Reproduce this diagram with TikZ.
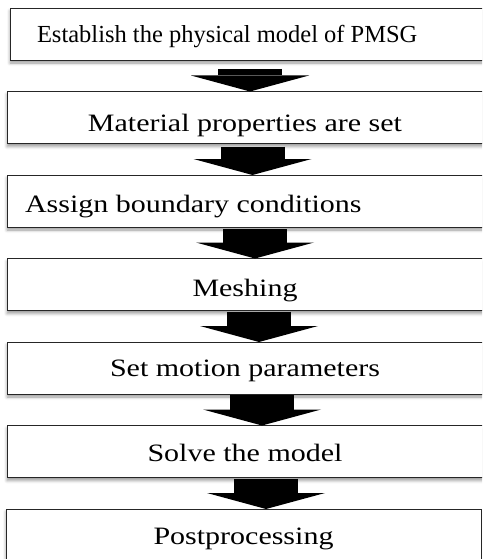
\documentclass[tikz,border=0pt]{standalone}
\usepackage{fontspec}
\setmainfont{Liberation Serif}
\newfontfamily\anchaserif[FakeStretch=1.2]{Liberation Serif}
\usetikzlibrary{arrows.meta,positioning,shadows.blur}
\tikzstyle{paso}=[
	rectangle,
	draw=black!85,
	line width=0.9pt,
	fill=white,
	outer sep=0pt,
	minimum width=476,
	minimum height=52,
	text height=16.5pt,
	text depth=0pt,
	font=\anchaserif\fontsize{25}{28}\selectfont,
	blur shadow={shadow xshift=0pt,shadow yshift=-3pt,shadow blur radius=3pt,shadow opacity=40}]
\tikzstyle{flecha}=[
	line width=64pt,
	-{Triangle[width=118pt,length=16pt,line width=0pt]}]
\begin{document}
\begin{tikzpicture}[x=1pt,y=1pt,node distance=31.5pt]
	\useasboundingbox (0,0) rectangle (482,-559);
	\clip (0,0) rectangle (482,-559);
	\node[paso,font=\rmfamily\fontsize{24.5}{28}\selectfont,minimum width=473,text width=419,align=flush left,inner xsep=27,anchor=north west] (model) at (10,-8) {Establish the physical model of PMSG};
	\node[paso,text height=28pt] (material) [below=of model.south west,anchor=north west,xshift=-3pt] {Material properties are set};
	\node[paso,text height=22pt,text width=440,align=flush left,inner xsep=18] (boundary) [below=of material] {Assign boundary conditions};
	\node[paso,text height=23pt] (mesh) [below=of boundary] {Meshing};
	\node[paso] (motion) [below=of mesh] {Set motion parameters};
	\node[paso,text height=20pt] (solve) [below=of motion] {Solve the model};
	\node[paso,text height=19pt,minimum width=475] (post) [below=of solve.south west,anchor=north west,xshift=-1pt] {Postprocessing};
	\foreach \a/\b/\x/\s in {model/material/250/9,material/boundary/252.5/3,boundary/mesh/255/2,mesh/motion/259/1,motion/solve/262/1,solve/post/266/1}
		\draw[flecha,shorten <=\s pt] (\x,0 |- \a.south) -- (\x,0 |- \b.north);
\end{tikzpicture}
\end{document}
